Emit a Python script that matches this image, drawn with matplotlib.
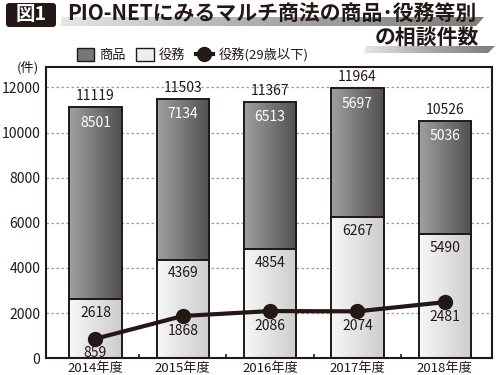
import matplotlib
import matplotlib.pyplot as plt
import numpy as np
from matplotlib.lines import Line2D
from matplotlib.patches import FancyBboxPatch, Patch, Polygon
from matplotlib.colors import LinearSegmentedColormap

matplotlib.use("Agg")

plt.rcParams["font.family"] = ["Noto Sans CJK JP", "DejaVu Sans"]

years = ["2014年度", "2015年度", "2016年度", "2017年度", "2018年度"]
goods = [8501, 7134, 6513, 5697, 5036]
services = [2618, 4369, 4854, 6267, 5490]
totals = [11119, 11503, 11367, 11964, 10526]
young_services = [859, 1868, 2086, 2074, 2481]

INK = "#231815"
dark_cmap = LinearSegmentedColormap.from_list("dark", ["#a0a0a0", "#505050"])
light_cmap = LinearSegmentedColormap.from_list("light", ["#f7f7f7", "#cdcdcd"])
shade_cmap = LinearSegmentedColormap.from_list("shade", ["#e4e4e4", "#a8a8a8", "#7c7c7c"])

W, H = 500, 375
fig = plt.figure(figsize=(5, 3.75), dpi=100)

# title block, coordinates in pixels measured from the top left
top = fig.add_axes([0, 0, 1, 1])
top.axis("off")
top.set_xlim(0, W)
top.set_ylim(H, 0)
for corners in ([(60, 26), (476, 26), (484, 17), (62, 17)],
                [(364, 53), (488, 53), (495, 46), (366, 46)]):
    band = Polygon(corners, closed=True, facecolor="none", edgecolor="none")
    top.add_patch(band)
    xs = [c[0] for c in corners]
    ys = [c[1] for c in corners]
    edges = np.linspace(min(xs), max(xs), 61)
    strips = top.bar(edges[:-1], max(ys) - min(ys), np.diff(edges), bottom=min(ys),
                     align="edge", color=shade_cmap(np.linspace(0, 1, 60)),
                     linewidth=0, zorder=1)
    for strip in strips:
        strip.set_clip_path(band)
top.set_xlim(0, W)
top.set_ylim(H, 0)
top.add_patch(FancyBboxPatch((6, 3), 50, 24, boxstyle="round,pad=0,rounding_size=3",
                             facecolor=INK, edgecolor="none", zorder=2))
top.text(31, 15, "図1", color="white", fontsize=14, fontweight="bold", ha="center",
         va="center", zorder=3)
top.text(67, 13, "PIO-NETにみるマルチ商法の商品･役務等別", color=INK, fontsize=15,
         fontweight="bold", ha="left", va="center", zorder=3)
top.text(479, 38, "の相談件数", color=INK, fontsize=15, fontweight="bold",
         ha="right", va="center", zorder=3)
top.text(17, 68, "(件)", fontsize=9.5, color=INK, va="center")

ax = fig.add_axes([0.092, 0.045, 0.892, 0.776])

x = np.arange(len(years))
width = 0.6
grad = np.linspace(0, 1, 64).reshape(1, -1)


def gradient_bars(bars, cmap):
    for bar in bars:
        x0, y0 = bar.get_x(), bar.get_y()
        im = ax.imshow(grad, extent=[x0, x0 + bar.get_width(), y0, y0 + bar.get_height()],
                       aspect="auto", cmap=cmap, zorder=2.5, interpolation="bicubic")
        im.set_clip_path(bar)


light_bars = ax.bar(x, services, width, facecolor="none", edgecolor=INK, linewidth=1.4, zorder=3)
dark_bars = ax.bar(x, goods, width, bottom=services, facecolor="none", edgecolor=INK,
                   linewidth=1.4, zorder=3)
gradient_bars(light_bars, light_cmap)
gradient_bars(dark_bars, dark_cmap)

ax.plot(x, young_services, color=INK, linewidth=3, marker="o", markersize=10, zorder=4)

for i in range(len(years)):
    ax.annotate(f"{totals[i]}", (x[i], totals[i]), xytext=(0, 8), textcoords="offset points",
                ha="center", va="center", fontsize=10, color=INK)
    ax.annotate(f"{goods[i]}", (x[i], totals[i]), xytext=(0, -11), textcoords="offset points",
                ha="center", va="center", fontsize=10, color="white", zorder=5)
    ax.annotate(f"{services[i]}", (x[i], services[i]), xytext=(0, -10), textcoords="offset points",
                ha="center", va="center", fontsize=10, color=INK, zorder=5)
    ax.annotate(f"{young_services[i]}", (x[i], young_services[i]), xytext=(0, -10.5),
                textcoords="offset points", ha="center", va="center", fontsize=10,
                color=INK, zorder=5)

ax.set_xlim(-0.566, 4.54)
ax.set_ylim(0, 12900)
ax.set_yticks(range(0, 12001, 2000))
ax.set_xticks(x)
ax.set_xticklabels(years, fontsize=9.5, color=INK)
ax.set_xticks([0.5, 1.5, 2.5, 3.5], minor=True)
ax.tick_params(axis="x", which="major", length=0, pad=3)
ax.tick_params(axis="x", which="minor", length=3, direction="in", width=1.2, color=INK)
ax.tick_params(axis="y", length=0, pad=4, labelsize=10, labelcolor=INK)
for val in range(2000, 12001, 2000):
    ax.axhline(val, color="#9a9a9a", linewidth=0.9, linestyle=(0, (2, 2)), zorder=1)
for spine in ax.spines.values():
    spine.set_color(INK)
    spine.set_linewidth(1.5)

handles = [
    Patch(facecolor="#777777", edgecolor=INK, linewidth=1),
    Patch(facecolor="#eeeeee", edgecolor=INK, linewidth=1),
    Line2D([], [], color=INK, linewidth=3, marker="o", markersize=10),
]
fig.legend(handles, ["商品", "役務", "役務(29歳以下)"], loc="center left",
           bbox_to_anchor=(0.13, 1 - 55 / 375), ncol=3, frameon=False, fontsize=9.5,
           handlelength=1.3, handleheight=1.1, columnspacing=0.8, handletextpad=0.4,
           labelcolor=INK)

fig.savefig("out.png", dpi=100)
